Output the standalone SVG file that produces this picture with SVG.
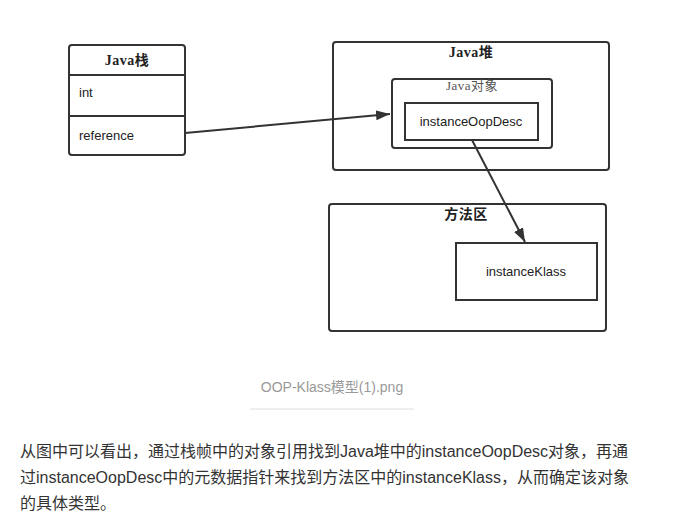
<svg xmlns="http://www.w3.org/2000/svg" width="675" height="528" viewBox="0 0 675 528">
<style>
.box{fill:#fff;stroke:#333;stroke-width:2}
.t{font-family:"Liberation Sans","Noto Sans CJK SC",sans-serif;font-size:13px;fill:#222}
.h{font-family:"Liberation Serif","Noto Sans CJK SC",serif;font-size:14px;font-weight:bold;fill:#222;text-anchor:middle;letter-spacing:0.5px}
.c{font-family:"Liberation Sans","Noto Sans CJK SC",sans-serif;font-size:14px;fill:#999;text-anchor:middle}
.p{font-family:"Liberation Sans","Noto Sans CJK SC",sans-serif;font-size:16px;fill:#333}
.edge{stroke:#333;stroke-width:2;fill:none}
</style>
<defs>
<marker id="ah" viewBox="0 0 14 10" refX="14" refY="5" markerWidth="14" markerHeight="10" markerUnits="userSpaceOnUse" orient="auto">
<path d="M0,0 L14,5 L0,10 z" fill="#333"/>
</marker>
</defs>
<rect width="675" height="528" fill="#fff"/>
<g id="java-stack">
<rect class="box" x="69" y="45" width="116" height="110" rx="3"/>
<line x1="69" y1="75" x2="185" y2="75" stroke="#333" stroke-width="2"/>
<line x1="69" y1="116" x2="185" y2="116" stroke="#333" stroke-width="2"/>
<text class="h" x="127" y="65">Java栈</text>
<text class="t" x="79" y="97">int</text>
<text class="t" x="79" y="140">reference</text>
</g>
<g id="java-heap">
<rect class="box" x="333" y="42" width="276" height="128" rx="3"/>
<text class="h" x="471" y="57">Java堆</text>
</g>
<g id="java-object">
<rect class="box" x="392" y="79" width="160" height="69" rx="3"/>
<text class="t" x="472" y="90" text-anchor="middle" style="fill:#555;font-family:'Liberation Serif','Noto Sans CJK SC',serif;letter-spacing:0.5px">Java对象</text>
</g>
<g id="instanceOopDesc">
<rect class="box" x="405" y="103" width="133" height="37"/>
<text class="t" x="471" y="126" text-anchor="middle">instanceOopDesc</text>
</g>
<g id="method-area">
<rect class="box" x="329" y="204" width="277" height="127" rx="3"/>
<text class="h" x="466" y="219">方法区</text>
</g>
<g id="instanceKlass">
<rect class="box" x="456" y="243" width="141" height="57"/>
<text class="t" x="526" y="276" text-anchor="middle">instanceKlass</text>
</g>
<g id="connectors">
<line class="edge" x1="185" y1="133" x2="390" y2="114" marker-end="url(#ah)"/>
<line class="edge" x1="472" y1="140" x2="525" y2="242" marker-end="url(#ah)"/>
</g>
<g id="caption">
<text class="c" x="332" y="392">OOP-Klass模型(1).png</text>
<line x1="250" y1="409" x2="414" y2="409" stroke="#ddd" stroke-width="1"/>
</g>
<g id="paragraph">
<text class="p" x="20" y="457">从图中可以看出，通过栈帧中的对象引用找到Java堆中的instanceOopDesc对象，再通</text>
<text class="p" x="20" y="483">过instanceOopDesc中的元数据指针来找到方法区中的instanceKlass，从而确定该对象</text>
<text class="p" x="20" y="509">的具体类型。</text>
</g>
</svg>
